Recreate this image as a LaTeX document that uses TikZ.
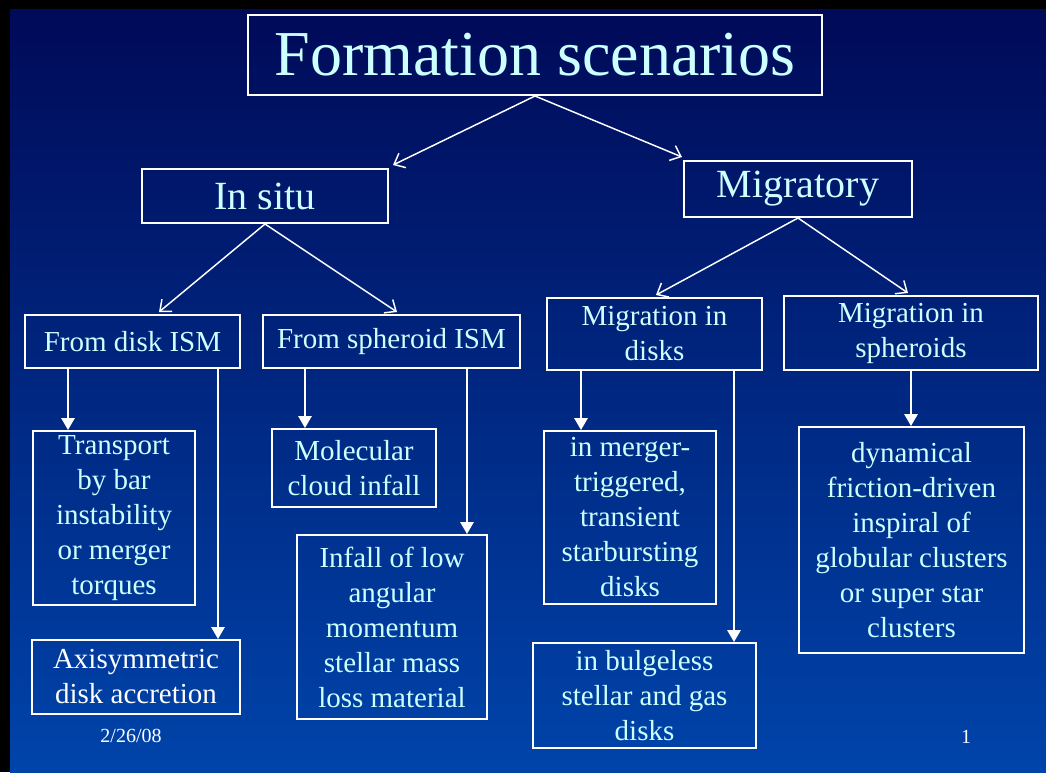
\documentclass[tikz,border=0pt]{standalone}
\usepackage{fontspec}
\setmainfont{Liberation Serif}
\usetikzlibrary{arrows.meta,calc}
\definecolor{ice}{HTML}{CCFFFF}
\definecolor{navytop}{HTML}{000A58}
\definecolor{navybot}{HTML}{0044AA}
\begin{document}
\begin{tikzpicture}[x=0.75pt,y=-0.75pt,
  sz/.style 2 args={minimum width=#1*0.75pt, minimum height=#2*0.75pt},
  box/.style={draw=white, line width=1.5pt, text=ice, align=center, inner sep=0pt,
    font=\fontsize{21.75}{26.25}\selectfont},
  bigbox/.style={box, font=\fontsize{30}{36}\selectfont},
  titlebox/.style={box, font=\fontsize{48}{56}\selectfont},
  barb/.style={draw=white, line width=1.1pt, -{Straight Barb[length=7pt,width=12pt]}},
  tri/.style={draw=white, line width=1.5pt, -{Triangle[length=9pt,width=10pt]}},
  foot/.style={text=white, inner sep=0pt, font=\fontsize{15}{18}\selectfont}]
% slide frame and background
\fill[black] (0,0) rectangle (1046,772);
\shade[top color=navytop, bottom color=navybot] (10,9) rectangle (1046,772);
\useasboundingbox (0,0) rectangle (1046,772);

% boxes
\node[titlebox, sz={574}{80}] (title) at (535,55) {Formation scenarios};
\node[bigbox, sz={246}{54}] (insitu) at (265,196) {In situ};
\node[bigbox, sz={228}{56}] (migr) at (798,189) {Migratory};

\node[box, sz={215}{53}] (disk) at (132.5,341.5) {From disk ISM};
\node[box, sz={257}{53}] (sph) at (391.5,341.5) {From spheroid ISM};
\node[box, sz={215}{72}] (mdisk) at (654.5,334) {Migration in\\disks};
\node[box, sz={254}{74}] (msph) at (911,333) {Migration in\\spheroids};

\node[box, sz={162}{174}] (trans) at (114,518) {Transport\\by bar\\instability\\or merger\\torques};
\node[box, sz={208}{74}, text=white] (axis) at (136,677) {Axisymmetric\\disk accretion};
\node[box, sz={164}{78}] (cloud) at (354,468) {Molecular\\cloud infall};
\node[box, sz={190}{184}] (infall) at (392,627) {Infall of low\\angular\\momentum\\stellar mass\\loss material};
\node[box, sz={172}{173}] (merger) at (630,517.5) {in merger-\\triggered,\\transient\\starbursting\\disks};
\node[box, sz={223}{105}] (bulge) at (644.5,695.5) {in bulgeless\\stellar and gas\\disks};
\node[box, sz={225}{226}] (fric) at (911.5,540) {dynamical\\friction-driven\\inspiral of\\globular clusters\\or super star\\clusters};

% footer
\node[foot] (date) at (131,736) {2/26/08};
\node[foot] (page) at (966,737) {1};

% branching connectors
\draw[barb] (title.south) -- ($(insitu.north east)+(4,-3)$);
\draw[barb] (title.south) -- ($(migr.north west)+(-1,-3)$);
\draw[barb] (insitu.south) -- ($(disk.north west)+(135,-2)$);
\draw[barb] (insitu.south) -- ($(sph.north west)+(135,-2)$);
\draw[barb] (migr.south) -- ($(mdisk.north west)+(110,-2)$);
\draw[barb] (migr.south) -- ($(msph.north west)+(125,-2)$);

% vertical connectors
\draw[tri] (68,0 |- disk.south) -- (68,0 |- trans.north);
\draw[tri] (218,0 |- disk.south) -- (218,0 |- axis.north);
\draw[tri] (305,0 |- sph.south) -- (305,0 |- cloud.north);
\draw[tri] (467,0 |- sph.south) -- (467,0 |- infall.north);
\draw[tri] (581,0 |- mdisk.south) -- (581,0 |- merger.north);
\draw[tri] (734,0 |- mdisk.south) -- (734,0 |- bulge.north);
\draw[tri] (911,0 |- msph.south) -- (911,0 |- fric.north);
\end{tikzpicture}
\end{document}
